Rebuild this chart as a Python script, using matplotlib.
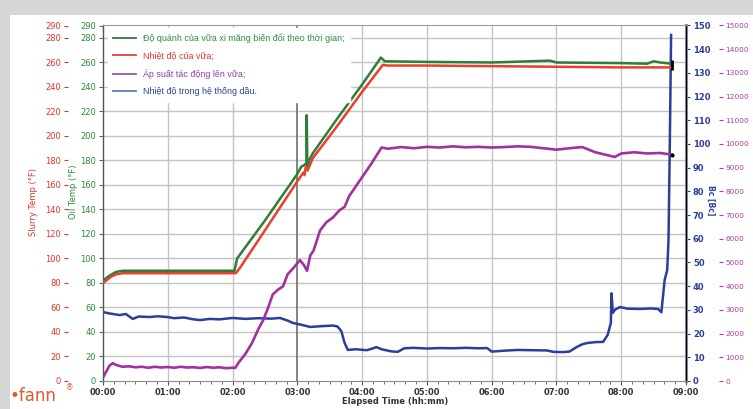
import matplotlib
matplotlib.use("Agg")
import matplotlib.pyplot as plt
from matplotlib.lines import Line2D
from matplotlib.patches import Rectangle
from matplotlib.ticker import MultipleLocator, FixedLocator

# ---------------- data (time in hours) ----------------
t_red = [0, 0.05, 0.12, 0.2, 0.3, 0.6, 1.0, 1.5, 2.0, 2.05, 2.11, 2.5, 3.0, 3.09, 3.11,
         3.13, 3.16, 3.24, 3.6, 4.0, 4.32, 4.4, 5.0, 6.0, 7.0, 8.0, 8.5, 8.78]
slurry_temp = [80, 82, 85, 87, 88, 88, 88, 88, 88, 88, 92, 123, 163, 170, 168,
               175, 172, 182, 207, 236, 258, 257.5, 257.5, 257, 256.5, 256, 256, 256]

t_green = [0, 0.1, 0.2, 0.3, 1.0, 2.03, 2.07, 2.5, 3.0, 3.06, 3.1, 3.14, 3.145, 3.155,
           3.18, 3.24, 3.6, 4.0, 4.29, 4.35, 5.0, 6.0, 6.9, 7.0, 8.0, 8.4, 8.5, 8.6, 8.78]
consistency = [82, 86, 89, 90, 90, 90, 100, 131, 169, 175, 176, 178, 217, 172,
               180, 186, 213, 242, 264, 261, 260.5, 260, 261.5, 260, 259.5, 259, 261, 260, 259]

t_psi = [0, 0.05, 0.1, 0.15, 0.2, 0.3, 0.4, 0.5, 0.6, 0.7, 0.8, 0.9, 1.0, 1.1, 1.2, 1.3,
         1.4, 1.5, 1.6, 1.7, 1.8, 1.9, 2.0, 2.04, 2.1, 2.2, 2.3, 2.4, 2.47, 2.55, 2.62,
         2.7, 2.78, 2.85, 2.95, 3.04, 3.1, 3.15, 3.2, 3.25, 3.35, 3.45, 3.55, 3.65, 3.73,
         3.8, 3.9, 3.97, 4.05, 4.15, 4.23, 4.3, 4.4, 4.6, 4.8, 5.0, 5.2, 5.4, 5.6, 5.8,
         6.0, 6.2, 6.4, 6.6, 6.8, 7.0, 7.2, 7.4, 7.6, 7.8, 7.9, 8.0, 8.2, 8.4, 8.6, 8.78]
pressure = [150, 400, 650, 750, 680, 600, 620, 580, 600, 560, 600, 570, 590, 560, 600, 570,
            580, 550, 590, 560, 580, 540, 560, 550, 800, 1150, 1600, 2200, 2550, 3100, 3650,
            3850, 4000, 4500, 4800, 5100, 4900, 4650, 5300, 5500, 6350, 6700, 6900, 7200, 7350,
            7800, 8200, 8480, 8800, 9200, 9550, 9850, 9800, 9870, 9820, 9880, 9850, 9900, 9860, 9880,
            9850, 9870, 9900, 9880, 9820, 9760, 9820, 9870, 9650, 9520, 9450, 9600, 9650, 9600, 9620, 9550]

t_oil = [0, 0.1, 0.26, 0.35, 0.46, 0.55, 0.72, 0.85, 0.99, 1.1, 1.25, 1.4, 1.5, 1.65, 1.8,
         2.0, 2.2, 2.4, 2.6, 2.73, 2.85, 2.93, 3.05, 3.2, 3.35, 3.55, 3.62, 3.68, 3.73, 3.78,
         3.9, 4.07, 4.15, 4.22, 4.3, 4.45, 4.55, 4.65, 4.8, 5.0, 5.2, 5.4, 5.6, 5.8, 5.93,
         6.0, 6.2, 6.4, 6.6, 6.85, 6.95, 7.1, 7.2, 7.31, 7.4, 7.47, 7.6, 7.72, 7.79, 7.84,
         7.85, 7.87, 7.9, 7.98, 8.1, 8.3, 8.45, 8.57, 8.62, 8.67, 8.71, 8.73, 8.75, 8.77]
oil_temp = [29.1, 28.5, 27.8, 28.3, 26.2, 27.2, 27.0, 27.3, 27.0, 26.5, 26.8, 26.0, 25.7, 26.2, 26.0,
            26.6, 26.2, 26.5, 26.3, 26.6, 25.5, 24.5, 23.8, 22.8, 23.1, 23.4, 23.0, 21.0, 16.0, 13.1,
            13.4, 13.0, 13.6, 14.3, 13.4, 12.5, 12.3, 13.8, 14.0, 13.7, 13.9, 13.8, 14.0, 13.8, 13.9,
            12.4, 12.8, 13.1, 13.0, 12.9, 12.3, 12.2, 12.4, 14.3, 15.5, 16.0, 16.4, 16.5, 19.4, 24.5,
            37.0, 28.7, 30.0, 31.2, 30.5, 30.4, 30.6, 30.4, 29.0, 42.6, 46.8, 59.5, 100.0, 146.0]

hour_labels = ["00:00", "01:00", "02:00", "03:00", "04:00", "05:00", "06:00", "07:00", "08:00", "09:00"]
left_ticks = [0, 20, 40, 60, 80, 100, 120, 140, 160, 180, 200, 220, 240, 260, 280, 290]
right_ticks = [0, 10, 20, 30, 40, 50, 60, 70, 80, 90, 100, 110, 120, 130, 140, 150]
psi_ticks = [0, 1000, 2000, 3000, 4000, 5000, 6000, 7000, 8000, 9000, 10000,
             11000, 12000, 13000, 14000, 15000]

legend_labels = ["Độ quánh của vữa xi măng biến đổi theo thời gian;",
                 "Nhiệt độ của vữa;",
                 "Áp suất tác động lên vữa;",
                 "Nhiệt độ trong hệ thống dầu."]

# ---------------- styling ----------------
C_GREEN = "#2f7d3a"
C_RED = "#e8402c"
C_PURPLE = "#a2309f"
C_BLUE = "#2c3e9c"
C_GREEN_T = "#2c8a3c"
C_RED_T = "#e5332a"
C_MAG_T = "#b43aa0"
C_BLUE_T = "#2a3f9c"

W, H = 753, 409
fig = plt.figure(figsize=(W / 100, H / 100), dpi=100)
fig.patch.set_facecolor("#d6d6d6")
fig.add_artist(Rectangle((10 / W, 0), 1, 1 - 15 / H, transform=fig.transFigure,
                         facecolor="white", edgecolor="none", zorder=-5))

L, R, T, B = 103, 686, 25, 381
ax = fig.add_axes([L / W, 1 - B / H, (R - L) / W, (B - T) / H])
ax.set_xlim(0, 9)
ax.set_ylim(0, 290.6)

ax2 = ax.twinx()
ax2.set_ylim(0, 150.2)
ax3 = ax.twinx()
ax3.set_ylim(0, 15020)

ax.set_zorder(3)
ax.patch.set_visible(False)
ax2.set_zorder(1)
ax3.set_zorder(2)

# grid
ax.set_xticks(range(10))
ax.set_xticklabels(hour_labels)
ax.xaxis.set_minor_locator(MultipleLocator(1 / 6))
ax.yaxis.set_major_locator(FixedLocator(left_ticks))
for y in left_ticks[1:-1]:
    ax2.axhline(y * 150.2 / 290.6, color="#c4c4c4", lw=1.0, zorder=0)
for h in range(1, 9):
    ax2.axvline(h, color="#7a7a7a" if h == 3 else "#c4c4c4", lw=1.3 if h == 3 else 1.0, zorder=0)

# data lines
ax2.plot(t_oil, oil_temp, color=C_BLUE, lw=1.8, zorder=3)
ax3.plot(t_psi, pressure, color=C_PURPLE, lw=1.9, zorder=3)
ax.plot(t_green, consistency, color=C_GREEN, lw=1.8, zorder=4)
ax.plot(t_red, slurry_temp, color=C_RED, lw=1.8, zorder=5)
ax.plot([t_red[-1]], [slurry_temp[-1] + 2], marker="|", ms=7, mew=2, color="black", zorder=6)
ax3.plot([t_psi[-1]], [pressure[-1]], marker="o", ms=2, color="black", zorder=6)

# spines
for a in (ax, ax2, ax3):
    a.spines["top"].set_color("#9a9a9a")
ax.spines["left"].set_color("#555555")
ax.spines["left"].set_linewidth(1.0)
ax.spines["bottom"].set_color("#8a8a8a")
ax2.spines["right"].set_color("#8a8f9e")
ax2.spines["right"].set_linewidth(2.2)
for s in ("left", "bottom", "top"):
    ax2.spines[s].set_visible(False)
    ax3.spines[s].set_visible(False)
ax3.spines["right"].set_position(("outward", 24))   # points
ax3.spines["right"].set_visible(False)

# ticks
fs = 6
ax.tick_params(axis="x", which="major", length=3, color="#555555", labelsize=fs, pad=2,
               labelcolor="#333333")
ax.tick_params(axis="x", which="minor", length=2, color="#555555")
for lab in ax.get_xticklabels():
    lab.set_fontweight("bold")
ax.tick_params(axis="y", length=3, color=C_GREEN_T, labelcolor=C_GREEN_T, labelsize=fs, pad=2)
ax.set_yticklabels([str(v) for v in left_ticks])

sec = ax.secondary_yaxis(-35 / (R - L))
sec.yaxis.set_major_locator(FixedLocator(left_ticks))
sec.set_yticklabels([str(v) for v in left_ticks])
sec.spines["left"].set_visible(False)
sec.tick_params(axis="y", length=3, color=C_RED_T, labelcolor=C_RED_T, labelsize=fs, pad=2)

ax2.yaxis.set_major_locator(FixedLocator(right_ticks))
ax2.set_yticklabels([str(v) for v in right_ticks])
ax2.tick_params(axis="y", length=3, color=C_BLUE_T, labelcolor=C_BLUE_T, labelsize=fs, pad=2)
for lab in ax2.get_yticklabels():
    lab.set_fontweight("bold")

ax3.yaxis.set_major_locator(FixedLocator(psi_ticks))
ax3.set_yticklabels([str(v) for v in psi_ticks])
ax3.tick_params(axis="y", length=3, color=C_MAG_T, labelcolor=C_MAG_T, labelsize=5.3, pad=1.5)

# axis labels
fig.text(395 / W, 1 - 402 / H, "Elapsed Time (hh:mm)", fontsize=fs, fontweight="bold",
         color="#333333", ha="center", va="center")
fig.text(33 / W, 1 - 202 / H, "Slurry Temp (°F)", fontsize=fs, color=C_RED_T,
         rotation=90, ha="center", va="center")
fig.text(73 / W, 1 - 192 / H, "Oil Temp (°F)", fontsize=fs, color=C_GREEN_T,
         rotation=90, ha="center", va="center")
fig.text(711 / W, 1 - 200 / H, "Bc [Bc]", fontsize=5.5, color=C_BLUE_T, fontweight="bold",
         rotation=270, ha="center", va="center")

# logo
fig.text(10 / W, 1 - 396 / H, "•fann", fontsize=12, color="#e2582c", ha="left", va="center")
fig.text(66 / W, 1 - 388 / H, "®", fontsize=5.5, color="#e2582c", ha="left", va="center")

# legend
handles = [Line2D([], [], color=C_GREEN, lw=1.3),
           Line2D([], [], color="#e0433a", lw=1.3),
           Line2D([], [], color="#9a55b5", lw=1.3),
           Line2D([], [], color="#5a7fc4", lw=1.3)]
leg = ax.legend(handles, legend_labels, loc="upper left",
                bbox_to_anchor=((108 - L) / (R - L), 1 - (28 - T) / (B - T)),
                prop={"family": ["Liberation Sans", "DejaVu Sans"], "size": 6.4},
                frameon=True, fancybox=False, framealpha=1, facecolor="white", edgecolor="white",
                handlelength=2.6, handletextpad=0.7, labelspacing=0.95, borderpad=0.6,
                borderaxespad=0)
text_colors = [C_GREEN_T, C_RED_T, "#8e3fa8", C_BLUE_T]
for txt, c in zip(leg.get_texts(), text_colors):
    txt.set_color(c)

fig.savefig("out.png", dpi=100)
